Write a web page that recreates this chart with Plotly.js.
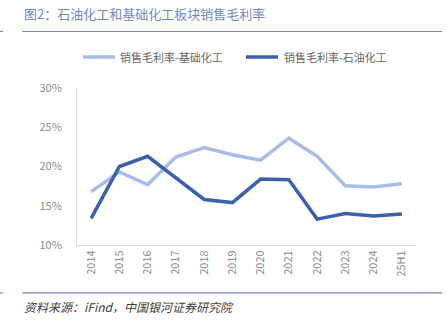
<!DOCTYPE html>
<html>
<head>
<meta charset="utf-8">
<script src="https://cdn.plot.ly/plotly-3.0.1.min.js"></script>
<style>
html,body{margin:0;padding:0;background:#fff;}
#chart{width:447px;height:327px;}
</style>
</head>
<body>
<div id="chart"></div>
<script>
const categories = ["2014","2015","2016","2017","2018","2019","2020","2021","2022","2023","2024","25H1"];
const basicChem = [16.8,19.3,17.7,21.2,22.4,21.5,20.8,23.6,21.3,17.55,17.4,17.8];
const petroChem = [13.4,20.0,21.3,18.6,15.8,15.4,18.4,18.3,13.3,14.0,13.7,13.95];
const seriesNames = ["销售毛利率-基础化工","销售毛利率-石油化工"];
const seriesColors = ['#a8bde6', '#3b61ad'];
const yTicks = [10,15,20,25,30];
const yTickLabels = ["10%","15%","20%","25%","30%"];

const cjk = '"Noto Sans CJK SC", "Noto Sans", sans-serif';

const traces = [
  {x: categories, y: basicChem, name: seriesNames[0], type: 'scatter', mode: 'lines',
   line: {color: seriesColors[0], width: 3.5}, showlegend: false},
  {x: categories, y: petroChem, name: seriesNames[1], type: 'scatter', mode: 'lines',
   line: {color: seriesColors[1], width: 3.5}, showlegend: false}
];

// legend drawn with shapes + annotations (positions in paper units)
const legendPos = [{x0: 0.0177, x1: 0.1121, tx: 0.121}, {x0: 0.4985, x1: 0.593, tx: 0.6047}];
const legendY = 1.197;
const legendShapes = legendPos.map((p, i) => ({type: 'line', xref: 'paper', yref: 'paper',
  x0: p.x0, x1: p.x1, y0: legendY, y1: legendY, line: {color: seriesColors[i], width: 3.5}}));
const legendTexts = legendPos.map((p, i) => ({text: seriesNames[i], xref: 'paper', yref: 'paper',
  x: p.tx, y: legendY, xanchor: 'left', yanchor: 'middle', showarrow: false,
  font: {family: cjk, size: 11, color: '#666666'}}));

const layout = {
  width: 447, height: 327,
  margin: {l: 77, r: 31, t: 88, b: 82},
  paper_bgcolor: '#fff', plot_bgcolor: '#fff',
  showlegend: false,
  xaxis: {type: 'category', range: [-0.5, 11.5], tickangle: -90, showgrid: false, zeroline: false,
          showline: true, linecolor: '#d9d9d9', linewidth: 1, ticks: '',
          tickfont: {family: cjk, size: 11, color: '#8c8c8c'}, fixedrange: true},
  yaxis: {range: [10, 30], tickvals: yTicks, ticktext: yTickLabels, showgrid: false,
          zeroline: false, showline: true, linecolor: '#d9d9d9', linewidth: 1, ticks: '',
          ticklabelstandoff: 12,
          tickfont: {family: cjk, size: 11, color: '#8c8c8c'}, fixedrange: true},
  shapes: [
    {type: 'line', xref: 'paper', yref: 'paper', x0: -0.162, x1: 1.077, y0: 1.36, y1: 1.36,
     line: {color: '#7088c8', width: 1.2}},
    {type: 'line', xref: 'paper', yref: 'paper', x0: -0.227, x1: -0.218, y0: 1.36, y1: 1.36,
     line: {color: '#7088c8', width: 1.2}},
    {type: 'line', xref: 'paper', yref: 'paper', x0: -0.162, x1: 1.077, y0: -0.305, y1: -0.305,
     line: {color: '#7088c8', width: 1.2}},
    {type: 'line', xref: 'paper', yref: 'paper', x0: -0.227, x1: -0.218, y0: -0.305, y1: -0.305,
     line: {color: '#7088c8', width: 1.2}}
  ].concat(legendShapes),
  annotations: [
    {text: '图2：石油化工和基础化工板块销售毛利率', xref: 'paper', yref: 'paper',
     x: -0.162, y: 1.475, xanchor: 'left', yanchor: 'middle', showarrow: false,
     font: {family: cjk, size: 13, color: '#7288c6'}},
    {text: '<i>资料来源：iFind，中国银河证券研究院</i>', xref: 'paper', yref: 'paper',
     x: -0.162, y: -0.39, xanchor: 'left', yanchor: 'middle', showarrow: false,
     font: {family: cjk, size: 12, color: '#404040'}}
  ].concat(legendTexts)
};

Plotly.newPlot('chart', traces, layout, {displayModeBar: false, staticPlot: true});
</script>
</body>
</html>
